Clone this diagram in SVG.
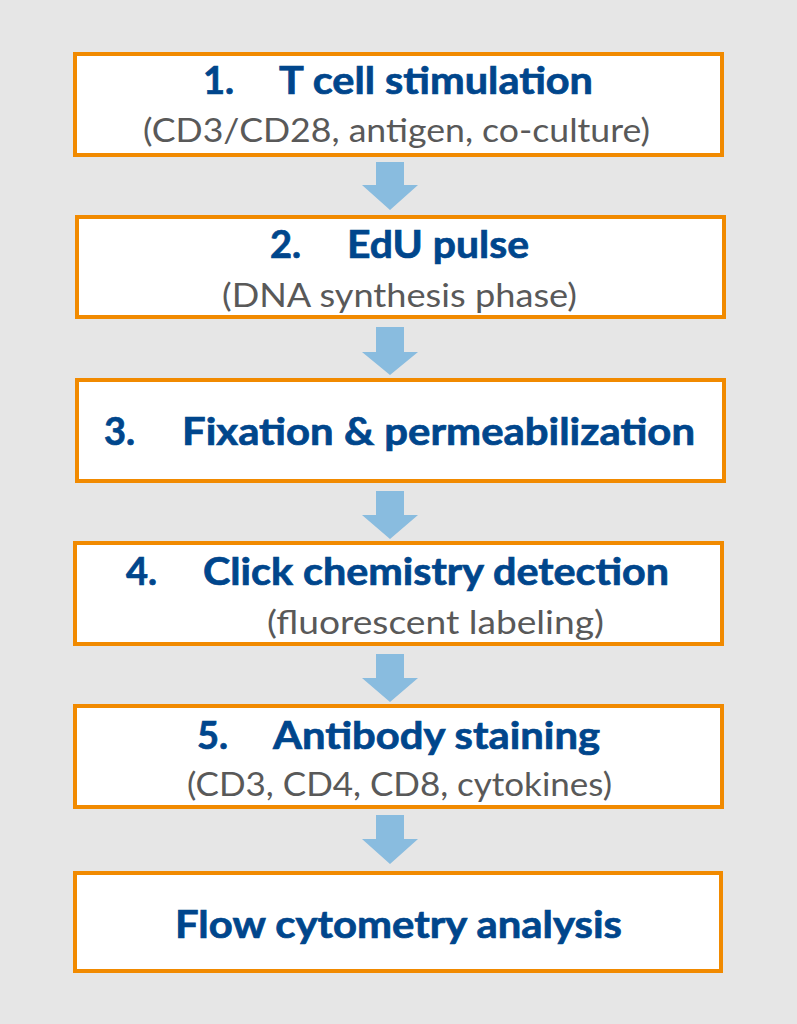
<svg xmlns="http://www.w3.org/2000/svg" width="797" height="1024" viewBox="0 0 797 1024">
  <style>
    .box { fill: #FFFFFF; stroke: #F18A00; stroke-width: 4; }
    .arrow { fill: #89BCDF; }
    .title { font-family: Lato, "Open Sans", "Liberation Sans", sans-serif; font-weight: bold; font-size: 38px; fill: #00468C; stroke: #00468C; stroke-width: 0.7; }
    .sub { font-family: Lato, "Open Sans", "Liberation Sans", sans-serif; font-size: 33px; fill: #595959; }
  </style>
  <rect x="0" y="0" width="797" height="1024" fill="#E6E6E6"/>

  <g id="connectors">
    <polygon class="arrow" points="376,162 404,162 404,185 418,185 390,210 362,185 376,185"/>
    <polygon class="arrow" points="376,327 404,327 404,352 418,352 390,375 362,352 376,352"/>
    <polygon class="arrow" points="376,491 404,491 404,515 418,515 390,539 362,515 376,515"/>
    <polygon class="arrow" points="376,654 404,654 404,678 418,678 390,702 362,678 376,678"/>
    <polygon class="arrow" points="376,815 404,815 404,839 418,839 390,864 362,839 376,839"/>
  </g>

  <g id="step1">
    <rect class="box" x="75" y="54" width="647" height="101"/>
    <text class="title" y="94"><tspan x="203">1.</tspan> <tspan x="279" textLength="314" lengthAdjust="spacingAndGlyphs">T cell stimulation</tspan></text>
    <text class="sub" x="143" y="142" textLength="507" lengthAdjust="spacingAndGlyphs">(CD3/CD28, antigen, co-culture)</text>
  </g>

  <g id="step2">
    <rect class="box" x="77" y="217" width="647" height="100"/>
    <text class="title" y="258"><tspan x="270">2.</tspan> <tspan x="347" textLength="182" lengthAdjust="spacingAndGlyphs">EdU pulse</tspan></text>
    <text class="sub" x="222" y="307" textLength="355" lengthAdjust="spacingAndGlyphs">(DNA synthesis phase)</text>
  </g>

  <g id="step3">
    <rect class="box" x="77" y="380" width="647" height="101"/>
    <text class="title" y="445"><tspan x="104">3.</tspan> <tspan x="182" textLength="513" lengthAdjust="spacingAndGlyphs">Fixation &amp; permeabilization</tspan></text>
  </g>

  <g id="step4">
    <rect class="box" x="75" y="543" width="647" height="101"/>
    <text class="title" y="585"><tspan x="126">4.</tspan> <tspan x="203" textLength="466" lengthAdjust="spacingAndGlyphs">Click chemistry detection</tspan></text>
    <text class="sub" x="267" y="634" textLength="337" lengthAdjust="spacingAndGlyphs">(fluorescent labeling)</text>
  </g>

  <g id="step5">
    <rect class="box" x="75" y="706" width="647" height="101"/>
    <text class="title" y="749"><tspan x="197">5.</tspan> <tspan x="273" textLength="327" lengthAdjust="spacingAndGlyphs">Antibody staining</tspan></text>
    <text class="sub" x="187" y="796" textLength="425" lengthAdjust="spacingAndGlyphs">(CD3, CD4, CD8, cytokines)</text>
  </g>

  <g id="step6">
    <rect class="box" x="75" y="873" width="646" height="98"/>
    <text class="title" x="175" y="938" textLength="447" lengthAdjust="spacingAndGlyphs">Flow cytometry analysis</text>
  </g>
</svg>
